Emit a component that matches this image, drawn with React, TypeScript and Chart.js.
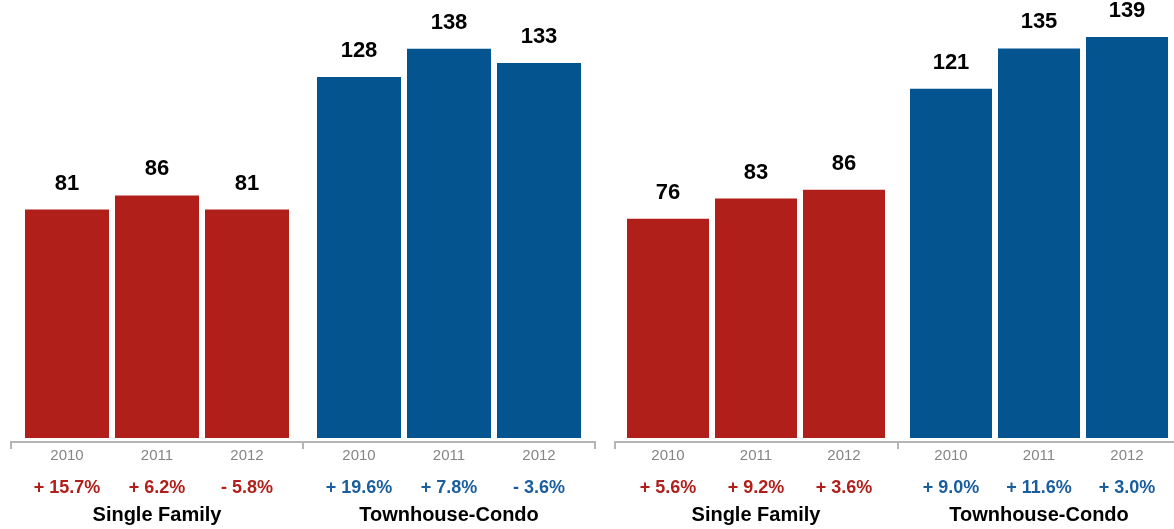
import React, { useEffect, useRef } from "react";
import { Chart, registerables } from "chart.js";

Chart.register(...registerables);

const years = ["2010", "2011", "2012"];
const groups = ["Single Family", "Townhouse-Condo"];

const leftSingleFamily = [81, 86, 81];
const leftTownhouse = [128, 138, 133];
const leftSingleChange = ["+ 15.7%", "+ 6.2%", "- 5.8%"];
const leftTownhouseChange = ["+ 19.6%", "+ 7.8%", "- 3.6%"];

const rightSingleFamily = [76, 83, 86];
const rightTownhouse = [121, 135, 139];
const rightSingleChange = ["+ 5.6%", "+ 9.2%", "+ 3.6%"];
const rightTownhouseChange = ["+ 9.0%", "+ 11.6%", "+ 3.0%"];

const RED = "#B01F1A";
const BLUE = "#03548F";
const BLUE_TEXT = "#1A5E9E";
const FONT = "'Liberation Sans', Arial, Helvetica, sans-serif";

type PanelProps = {
  single: number[];
  town: number[];
  singleChg: string[];
  townChg: string[];
  left: number;
  width: number;
  padLeft: number;
  padRight: number;
  yMin: number;
  yMax: number;
  catPct: number;
  barPct: number;
};

function Panel(p: PanelProps) {
  const ref = useRef<HTMLCanvasElement | null>(null);
  useEffect(() => {
    if (!ref.current) return;
    const labelsPlugin = {
      id: "labels",
      afterDraw(chart: any) {
        const ctx = chart.ctx;
        ctx.save();
        chart.data.datasets.forEach((ds: any, i: number) => {
          const meta = chart.getDatasetMeta(i);
          meta.data.forEach((bar: any, j: number) => {
            const v = ds.data[j];
            ctx.textAlign = "center";
            ctx.textBaseline = "alphabetic";
            ctx.fillStyle = "#000";
            ctx.font = `bold 22px ${FONT}`;
            ctx.fillText(String(v), bar.x, bar.y - 20);
            ctx.fillStyle = "#858585";
            ctx.font = `15px ${FONT}`;
            ctx.fillText(years[i], bar.x, 460);
            const chg = j === 0 ? p.singleChg[i] : p.townChg[i];
            ctx.fillStyle = j === 0 ? RED : BLUE_TEXT;
            ctx.font = `bold 18px ${FONT}`;
            ctx.fillText(chg, bar.x, 493);
          });
        });
        const xs = chart.scales.x;
        groups.forEach((g, j) => {
          ctx.fillStyle = "#000";
          ctx.font = `bold 20px ${FONT}`;
          ctx.textAlign = "center";
          ctx.fillText(g, xs.getPixelForValue(j), 521);
        });
        ctx.restore();
      },
    };
    const chart = new Chart(ref.current, {
      type: "bar",
      data: {
        labels: groups,
        datasets: years.map((y, i) => ({
          label: y,
          data: [p.single[i], p.town[i]],
          backgroundColor: [RED, BLUE],
          borderWidth: 0,
          categoryPercentage: p.catPct,
          barPercentage: p.barPct,
        })),
      },
      options: {
        responsive: false,
        animation: false,
        layout: { padding: { left: p.padLeft, right: p.padRight, top: 0, bottom: 0 } },
        plugins: { legend: { display: false }, tooltip: { enabled: false } },
        scales: {
          x: {
            ticks: { display: false },
            grid: {
              drawOnChartArea: false,
              drawTicks: true,
              tickLength: 7,
              color: "#B5B5B5",
              lineWidth: 2,
              offset: true,
            },
            border: { display: true, color: "#B5B5B5", width: 2 },
            afterFit(scale: any) {
              scale.height = 87;
            },
          },
          y: {
            display: false,
            min: p.yMin,
            max: p.yMax,
          },
        },
      },
      plugins: [labelsPlugin],
    });
    return () => chart.destroy();
  }, []);
  return (
    <canvas
      ref={ref}
      width={p.width}
      height={529}
      style={{ position: "absolute", left: p.left, top: 0, width: p.width, height: 529 }}
    />
  );
}

export default function App() {
  return (
    <div
      style={{
        position: "fixed",
        left: 0,
        top: 0,
        width: 1174,
        height: 529,
        overflow: "hidden",
        background: "#fff",
      }}
    >
      <Panel
        single={leftSingleFamily}
        town={leftTownhouse}
        singleChg={leftSingleChange}
        townChg={leftTownhouseChange}
        left={0}
        width={600}
        padLeft={11}
        padRight={5}
        yMin={-1.42}
        yMax={155.3}
        catPct={270 / 292}
        barPct={84 / 90}
      />
      <Panel
        single={rightSingleFamily}
        town={rightTownhouse}
        singleChg={rightSingleChange}
        townChg={rightTownhouseChange}
        left={600}
        width={584}
        padLeft={14.5}
        padRight={3.5}
        yMin={-1.39}
        yMax={151.8}
        catPct={264 / 283}
        barPct={82 / 88}
      />
    </div>
  );
}
